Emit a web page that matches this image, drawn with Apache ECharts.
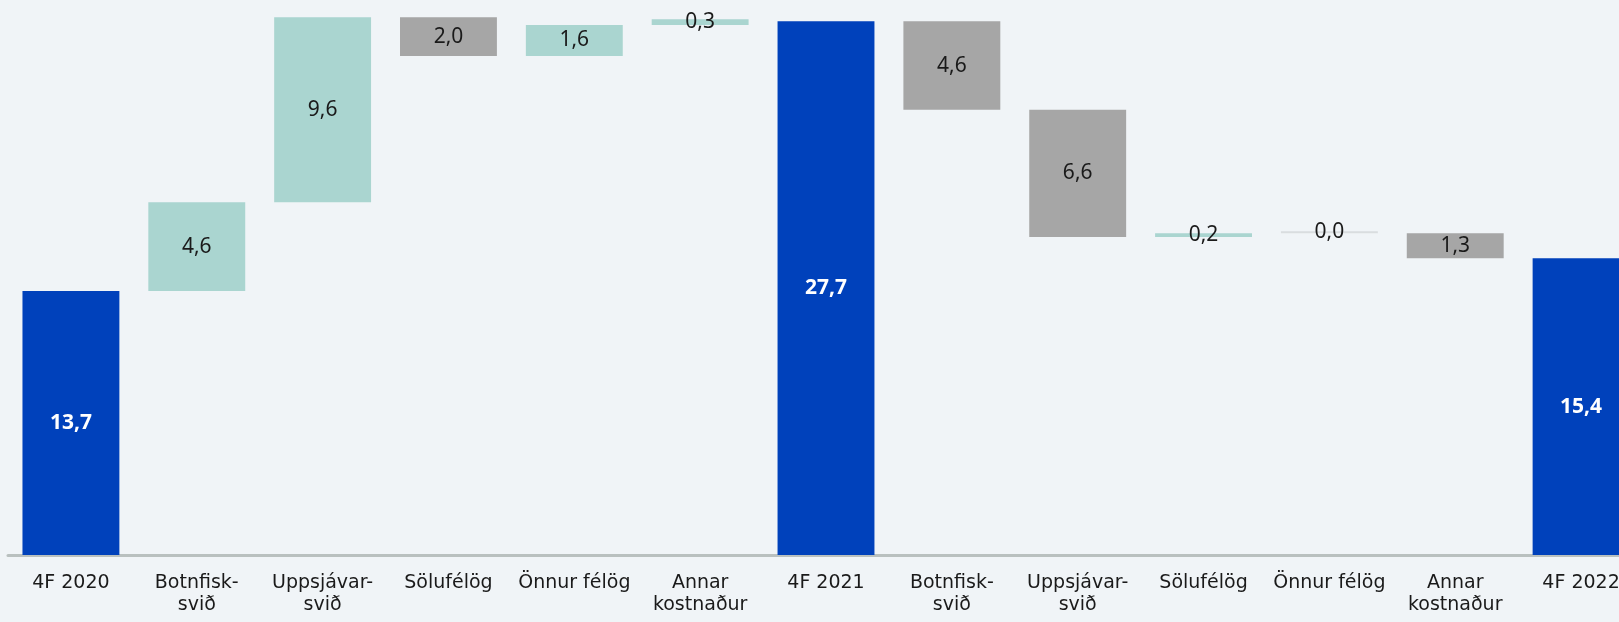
<!DOCTYPE html>
<html>
<head>
  <meta charset="utf-8">
  <title>Waterfall</title>
  <style type="text/css">
    html, body { margin: 0; padding: 0; background: #f0f4f7; }
    #main { width: 1619px; height: 622px; }
  </style>
</head>
<body>
<div id="main"></div>
<script type="text/javascript" src="https://cdn.jsdelivr.net/npm/echarts@6/dist/echarts.min.js"></script>
<script type="text/javascript">
  var categories = ['4F 2020', 'Botnfisk-\nsvið', 'Uppsjávar-\nsvið', 'Sölufélög', 'Önnur félög', 'Annar\nkostnaður',
                    '4F 2021', 'Botnfisk-\nsvið', 'Uppsjávar-\nsvið', 'Sölufélög', 'Önnur félög', 'Annar\nkostnaður', '4F 2022'];
  var changes = [13.7, 4.6, 9.6, -2.0, 1.6, 0.3, 27.7, -4.6, -6.6, 0.2, 0.0, -1.3, 15.4];
  var totals = [true, false, false, false, false, false, true, false, false, false, false, false, true];

  var colors = { total: '#0041bb', up: '#aad5d0', down: '#a6a6a6', zero: '#d9dddf' };

  // invisible base + visible piece, classic waterfall stack
  var base = [], piece = [];
  var running = 0;
  changes.forEach(function (v, i) {
    var color;
    if (totals[i]) {
      base.push(0);
      running = v;
      color = colors.total;
    } else if (v >= 0) {
      base.push(running);
      running += v;
      color = v === 0 ? colors.zero : colors.up;
    } else {
      running += v;
      base.push(running);
      color = colors.down;
    }
    piece.push({
      value: Math.abs(v),
      itemStyle: { color: color },
      label: totals[i] ? { color: '#ffffff', fontWeight: 'bold' } : {}
    });
  });

  var myChart = echarts.init(document.getElementById('main'));
  var option = {
    backgroundColor: '#f0f4f7',
    animation: false,
    grid: { left: 8, width: 1636, top: 0, bottom: 67, containLabel: false, outerBoundsMode: 'none' },
    xAxis: {
      type: 'category',
      data: categories,
      axisTick: { show: false },
      axisLine: { lineStyle: { color: '#b9c0bf', width: 3 } },
      axisLabel: {
        interval: 0,
        margin: 17,
        color: '#1a1a1a',
        fontFamily: 'DejaVu Sans',
        fontSize: 19,
        lineHeight: 22
      }
    },
    yAxis: {
      type: 'value',
      min: 0,
      max: 28.8,
      show: false,
      splitLine: { show: false }
    },
    series: [
      {
        type: 'bar',
        stack: 'w',
        data: base,
        barWidth: '77%',
        itemStyle: { color: 'transparent' },
        silent: true
      },
      {
        type: 'bar',
        stack: 'w',
        data: piece,
        barWidth: '77%',
        barMinHeight: 2,
        label: {
          show: true,
          position: 'inside',
          color: '#1a1a1a',
          fontFamily: 'Noto Sans',
          fontSize: 21,
          formatter: function (p) {
            return p.value.toFixed(1).replace('.', ',');
          }
        }
      }
    ]
  };
  myChart.setOption(option);
</script>
</body>
</html>
